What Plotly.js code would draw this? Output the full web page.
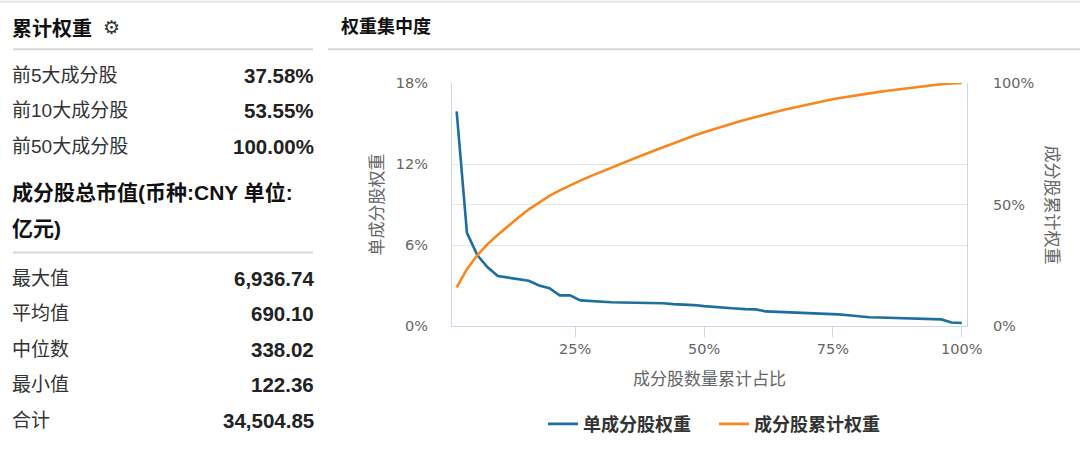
<!DOCTYPE html>
<html>
<head>
<meta charset="utf-8">
<script src="https://cdn.plot.ly/plotly-3.0.1.min.js"></script>
<style>
  html, body { margin: 0; padding: 0; background: #fff; }
  #chart { width: 1080px; height: 455px; }
</style>
</head>
<body>
<div id="chart"></div>
<script>
// Left panel table
var topLabels = ['前5大成分股', '前10大成分股', '前50大成分股'];
var topValues = ['37.58%', '53.55%', '100.00%'];
var statLabels = ['最大值', '平均值', '中位数', '最小值', '合计'];
var statValues = ['6,936.74', '690.10', '338.02', '122.36', '34,504.85'];

// Chart data: share of constituents (%), single weight (%), cumulative weight (%)
var xShare = [2, 4, 6, 8, 10, 12, 14, 16, 18, 20,
    22, 24, 26, 28, 30, 32, 34, 36, 38, 40,
    42, 44, 46, 48, 50, 52, 54, 56, 58, 60,
    62, 64, 66, 68, 70, 72, 74, 76, 78, 80,
    82, 84, 86, 88, 90, 92, 94, 96, 98, 100];
var singleWeight = [15.9, 6.9, 5.25, 4.35, 3.7, 3.6, 3.47, 3.35, 3.0, 2.8,
    2.27, 2.27, 1.9, 1.84, 1.8, 1.76, 1.74, 1.73, 1.72, 1.70,
    1.68, 1.62, 1.59, 1.55, 1.47, 1.40, 1.35, 1.30, 1.25, 1.23,
    1.08, 1.05, 1.04, 1.0, 0.96, 0.93, 0.90, 0.86, 0.80, 0.70,
    0.65, 0.63, 0.61, 0.59, 0.55, 0.53, 0.51, 0.49, 0.26, 0.22];
var cumWeight = [15.9, 23.4, 29.1, 33.7, 37.58, 41.2, 44.67, 48.02, 50.97, 53.55,
    55.79, 57.96, 59.84, 61.66, 63.44, 65.18, 66.90, 68.60, 70.28, 71.94,
    73.58, 75.18, 76.74, 78.26, 79.71, 81.09, 82.41, 83.68, 84.90, 86.08,
    87.14, 88.17, 89.18, 90.16, 91.10, 92.01, 92.89, 93.72, 94.45, 95.10,
    95.73, 96.34, 96.93, 97.50, 98.04, 98.56, 99.06, 99.53, 99.78, 100.00];

var xTicks = [25, 50, 75, 100];
var xTickText = ['25%', '50%', '75%', '100%'];
var yTicks = [0, 6, 12, 18];
var yTickText = ['0%', '6%', '12%', '18%'];
var y2Ticks = [0, 50, 100];
var y2TickText = ['0%', '50%', '100%'];

var seriesNames = ['单成分股权重', '成分股累计权重'];

var W = 1080, H = 455;
var M = { l: 452, r: 113, t: 83, b: 127 };
var pw = W - M.l - M.r, ph = H - M.t - M.b;

// pixel -> paper helpers for the surrounding panel
function px(x) { return (x - M.l) / pw; }
function py(y) { return (H - M.b - y) / ph; }

var cjk = 'Noto Sans CJK SC, sans-serif';
var num = 'Liberation Sans, Noto Sans CJK SC, sans-serif';
var tickFont = { family: 'DejaVu Sans, sans-serif', size: 14.5, color: '#666' };

var annotations = [];
function addText(text, x, y, anchor, font) {
    annotations.push({
        text: text, xref: 'paper', yref: 'paper',
        x: px(x), y: py(y), xanchor: anchor, yanchor: 'middle',
        showarrow: false, font: font
    });
}

// headers
addText('累计权重', 10, 27, 'left', { family: cjk, size: 20, color: '#111', weight: 'bold' });
addText('⚙', 101, 27, 'left', { family: 'DejaVu Sans, sans-serif', size: 19, color: '#333' });
addText('权重集中度', 339, 25, 'left', { family: cjk, size: 18, color: '#111', weight: 'bold' });

for (var i = 0; i < topLabels.length; i++) {
    addText(topLabels[i], 10, 75 + i * 36, 'left', { family: num, size: 19, color: '#333' });
    addText(topValues[i], 316, 75 + i * 36, 'right', { family: num, size: 20.5, color: '#222', weight: 'bold' });
}
addText('成分股总市值(币种:CNY 单位:', 10, 193, 'left', { family: num, size: 21, color: '#111', weight: 'bold' });
addText('亿元)', 10, 230, 'left', { family: num, size: 21, color: '#111', weight: 'bold' });

for (var j = 0; j < statLabels.length; j++) {
    addText(statLabels[j], 10, 280 + j * 35.8, 'left', { family: num, size: 19, color: '#333' });
    addText(statValues[j], 316, 280 + j * 35.8, 'right', { family: num, size: 20.5, color: '#222', weight: 'bold' });
}

// right axis title reads top to bottom
annotations.push({
    text: '成分股累计权重', xref: 'paper', yref: 'paper',
    x: px(1053), y: 0.5, xanchor: 'center', yanchor: 'middle',
    textangle: 90, showarrow: false,
    font: { family: cjk, size: 17, color: '#666' }
});

function hline(x0, x1, y, color, width) {
    return {
        type: 'line', xref: 'paper', yref: 'paper',
        x0: px(x0), x1: px(x1), y0: py(y), y1: py(y),
        line: { color: color, width: width }
    };
}

var shapes = [
    hline(0, 1080, 1, '#e6e6e6', 2),
    hline(13, 313, 49, '#d6d6dc', 2),
    hline(328, 1080, 49, '#d6d6dc', 2),
    hline(13, 313, 254, '#d6d6dc', 2)
];

var single = {
    x: xShare, y: singleWeight, name: seriesNames[0],
    type: 'scatter', mode: 'lines', yaxis: 'y',
    line: { color: '#1d6f9e', width: 2.6 },
    hoverinfo: 'skip'
};
var cumulative = {
    x: xShare, y: cumWeight, name: seriesNames[1],
    type: 'scatter', mode: 'lines', yaxis: 'y2',
    line: { color: '#f7881f', width: 2.6 },
    hoverinfo: 'skip'
};

var layout = {
    width: W, height: H,
    margin: M,
    paper_bgcolor: '#fff', plot_bgcolor: '#fff',
    showlegend: true,
    legend: {
        orientation: 'h', x: px(714), xanchor: 'center',
        y: py(427), yanchor: 'middle',
        itemwidth: 30, entrywidth: 126,
        font: { family: cjk, size: 18, color: '#333', weight: 'bold' }
    },
    xaxis: {
        range: [1.1, 101], tickvals: xTicks, ticktext: xTickText,
        showgrid: false, zeroline: false,
        showline: true, linecolor: '#ccd6eb', linewidth: 1,
        ticks: 'outside', ticklen: 10, tickcolor: '#ccd6eb',
        tickfont: tickFont,
        title: { text: '成分股数量累计占比', font: { family: cjk, size: 17, color: '#666' }, standoff: 16 }
    },
    yaxis: {
        range: [0, 18], tickvals: yTicks, ticktext: yTickText,
        showgrid: true, gridcolor: '#e6e6e6', zeroline: false,
        showline: true, linecolor: '#ccd6eb', linewidth: 1,
        ticks: '', ticklabelstandoff: 20,
        tickfont: tickFont,
        title: { text: '单成分股权重', font: { family: cjk, size: 17, color: '#666' }, standoff: 7 }
    },
    yaxis2: {
        range: [0, 100], tickvals: y2Ticks, ticktext: y2TickText,
        overlaying: 'y', side: 'right',
        showgrid: true, gridcolor: '#e6e6e6', zeroline: false,
        showline: true, linecolor: '#ccd6eb', linewidth: 1,
        ticks: '', ticklabelstandoff: 22,
        tickfont: tickFont
    },
    annotations: annotations,
    shapes: shapes
};

Plotly.newPlot('chart', [single, cumulative], layout, { displayModeBar: false, staticPlot: true });
</script>
</body>
</html>
